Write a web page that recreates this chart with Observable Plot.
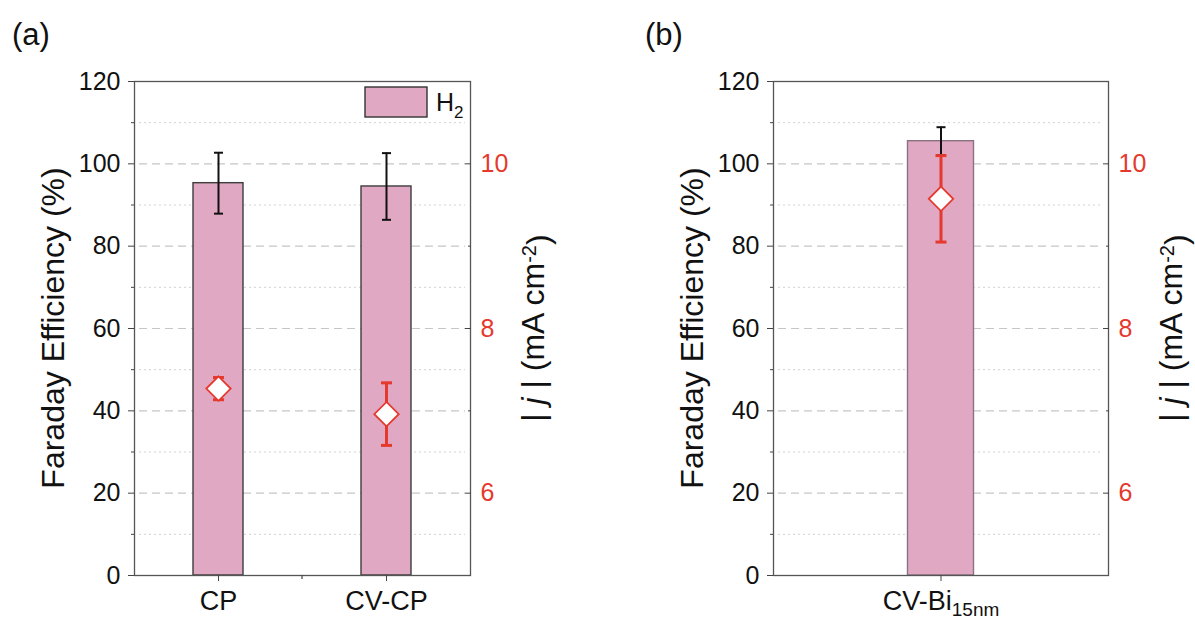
<!DOCTYPE html>
<html><head><meta charset="utf-8">
<script src="https://cdn.jsdelivr.net/npm/d3@7"></script>
<script src="https://cdn.jsdelivr.net/npm/@observablehq/plot@0.6"></script>
<style>
html,body{margin:0;padding:0;background:#fff;}
#wrap{position:relative;width:1195px;height:626px;overflow:hidden;background:#fff;}
#pa{position:absolute;left:0;top:0;}
#pb{position:absolute;left:600px;top:0;}
</style></head><body>
<div id="wrap"><div id="pa"></div><div id="pb"></div></div>
<script>
// ---- data ----
const catsA = ["CP", "CV-CP"];
const feA = [95.3, 94.5];
const feErrA = [7.4, 8.1];
const jA = [7.27, 6.96];
const jErrA = [0.135, 0.38];

const catsB = ["CV-Bi15nm"];
const feB = [105.5];
const feErrB = [3.4];
const jB = [9.575];
const jErrB = [0.525];

const subscriptLabels = {"CV-Bi15nm": ["CV-Bi", "15nm"]};
const feTicks = [0, 20, 40, 60, 80, 100, 120];
const feGridMajor = [20, 40, 60, 80, 100];
const feMinorTicks = [10, 30, 50, 70, 90, 110];
const jTicks = [6, 8, 10];
const jMinorTicks = [7, 9];
const feDomain = [0, 120];
const jDomain = [5, 11];
const legendLabel = ["H", "2"];

// ---- styles ----
const FONT = "'Liberation Sans', Arial, Helvetica, sans-serif";
const PINK = "#e0a8c2";
const RED = "#e5392e";
const INK = "#111";

const capSym = {draw(ctx, size) { const r = Math.sqrt(size / Math.PI); ctx.moveTo(-r, 0); ctx.lineTo(r, 0); }};

function makePanel(o) {
  const jToFe = d3.scaleLinear().domain(jDomain).range(feDomain);
  const rows = o.cats.map((c, i) => ({
    cat: c, fe: o.fe[i], feLo: o.fe[i] - o.feErr[i], feHi: o.fe[i] + o.feErr[i],
    j: jToFe(o.j[i]), jLo: jToFe(o.j[i] - o.jErr[i]), jHi: jToFe(o.j[i] + o.jErr[i])
  }));
  const svg = Plot.plot({
    width: o.width, height: 626,
    marginTop: 81, marginBottom: 51, marginLeft: o.marginLeft, marginRight: o.marginRight,
    style: {fontFamily: FONT, fontSize: "25px", color: INK, background: "transparent", overflow: "visible"},
    x: {type: "band", domain: o.cats, padding: 0},
    y: {domain: feDomain},
    marks: [
      Plot.ruleY(feMinorTicks, {stroke: "#d2d2d2", strokeDasharray: "2,3", strokeWidth: 1, insetLeft: 5, insetRight: 5}),
      Plot.ruleY(feGridMajor, {stroke: "#c6c6c6", strokeDasharray: "8,5", strokeWidth: 1.2, insetLeft: 5, insetRight: 5}),
      Plot.barY(rows, {x: "cat", y: "fe", fill: PINK, stroke: o.barStroke, strokeWidth: 1.4, insetLeft: o.barInset, insetRight: o.barInset}),
      Plot.ruleX(rows, {x: "cat", y1: "feLo", y2: "feHi", stroke: INK, strokeWidth: 2}),
      Plot.dot(rows, {x: "cat", y: "feLo", symbol: capSym, r: 4.5, fill: "none", stroke: INK, strokeWidth: 2}),
      Plot.dot(rows, {x: "cat", y: "feHi", symbol: capSym, r: 4.5, fill: "none", stroke: INK, strokeWidth: 2}),
      Plot.ruleX(rows, {x: "cat", y1: "jLo", y2: "jHi", stroke: RED, strokeWidth: 3}),
      Plot.dot(rows, {x: "cat", y: "jLo", symbol: capSym, r: 5.5, fill: "none", stroke: RED, strokeWidth: 3}),
      Plot.dot(rows, {x: "cat", y: "jHi", symbol: capSym, r: 5.5, fill: "none", stroke: RED, strokeWidth: 3}),
      Plot.dot(rows, {x: "cat", y: "j", symbol: "diamond2", r: 11, fill: "white", stroke: RED, strokeWidth: 1.8}),
      Plot.frame({stroke: "#555", strokeWidth: 1.3}),
      Plot.axisY({ticks: feTicks, tickSize: 6, tickPadding: 8, label: null, tickFormat: d => d, stroke: "#444"}),
      Plot.axisY({ticks: feMinorTicks, tickSize: 3, text: null, label: null, stroke: "#444"}),
      Plot.axisY({anchor: "right", ticks: jTicks.map(jToFe), tickSize: 0, tickPadding: 10, label: null,
                  tickFormat: d => Math.round(jToFe.invert(d)), fill: RED}),
      Plot.axisY({anchor: "right", ticks: jTicks.map(jToFe), tickSize: -6, text: null, label: null, stroke: "#444"}),
      Plot.axisY({anchor: "right", ticks: jMinorTicks.map(jToFe), tickSize: -3, text: null, label: null, stroke: "#444"}),
      Plot.axisX({tickSize: 6, tickPadding: 9, label: null, stroke: "#444", fontSize: 27})
    ]
  });
  const s = d3.select(svg);
  // subscripted category labels
  s.selectAll('g[aria-label="x-axis tick label"] text').each(function() {
    const t = this.textContent;
    if (subscriptLabels[t]) {
      const [main, sub] = subscriptLabels[t];
      this.textContent = main;
      d3.select(this).append("tspan").attr("dy", "0.33em").attr("font-size", "19px").text(sub);
    }
  });
  // minor x ticks at band boundaries
  const xs = svg.scale("x");
  o.cats.slice(1).forEach(c => {
    const bx = xs.apply(c);
    s.append("line").attr("x1", bx).attr("x2", bx).attr("y1", 575).attr("y2", 579)
      .attr("stroke", "#444").attr("stroke-width", 1.2);
  });
  // panel letter
  s.append("text").attr("x", o.letterX).attr("y", 45).attr("text-anchor", "start")
    .attr("font-family", FONT).attr("font-size", 31).attr("fill", INK).text(o.letter);
  // left axis title
  s.append("text").attr("transform", `translate(${o.marginLeft - 70},328) rotate(-90)`)
    .attr("text-anchor", "middle").attr("font-family", FONT).attr("font-size", 32).attr("fill", INK)
    .text("Faraday Efficiency (%)");
  // right axis title
  const rx = o.width - o.marginRight + 74;
  const rt = s.append("text").attr("transform", `translate(${rx},328) rotate(-90)`)
    .attr("text-anchor", "middle").attr("font-family", FONT).attr("font-size", 32).attr("fill", INK);
  rt.append("tspan").text("| ");
  rt.append("tspan").attr("font-style", "italic").text("j");
  rt.append("tspan").text(" | (mA cm");
  rt.append("tspan").attr("dy", "-0.42em").attr("font-size", "20px").text("-2");
  rt.append("tspan").attr("dy", "0.42em").text(")");
  if (o.legend) {
    s.append("rect").attr("x", 365).attr("y", 87).attr("width", 62).attr("height", 30)
      .attr("fill", PINK).attr("stroke", "#333").attr("stroke-width", 1.4);
    const lt = s.append("text").attr("x", 436).attr("y", 111).attr("text-anchor", "start")
      .attr("font-family", FONT).attr("font-size", 25).attr("fill", INK);
    lt.append("tspan").text(legendLabel[0]);
    lt.append("tspan").attr("dy", 7).attr("font-size", 17).text(legendLabel[1]);
  }
  return svg;
}

document.getElementById("pa").appendChild(makePanel({
  cats: catsA, fe: feA, feErr: feErrA, j: jA, jErr: jErrA,
  width: 600, marginLeft: 134, marginRight: 130, barInset: 59, barStroke: "#3d3d3d",
  letter: "(a)", letterX: 12, legend: true
}));
document.getElementById("pb").appendChild(makePanel({
  cats: catsB, fe: feB, feErr: feErrB, j: jB, jErr: jErrB,
  width: 595, marginLeft: 173, marginRight: 87, barInset: 134.5, barStroke: "#8a7282",
  letter: "(b)", letterX: 45, legend: false
}));
</script>
</body></html>
